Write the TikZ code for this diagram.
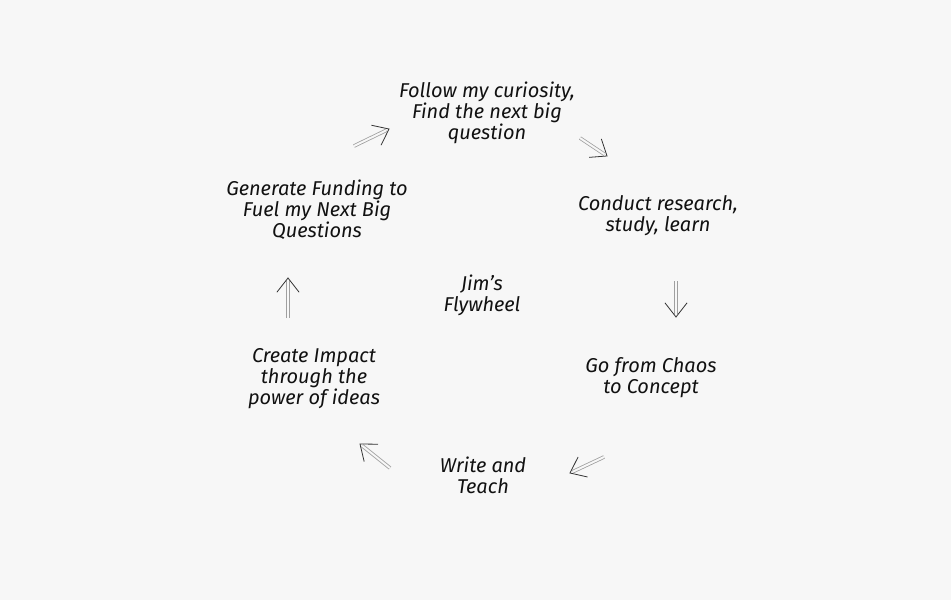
\documentclass[tikz,border=0pt]{standalone}
\usepackage{fontspec}
\setmainfont{Fira Sans}
\usetikzlibrary{calc}
\definecolor{bgcol}{HTML}{F7F7F7}
\definecolor{inkcol}{HTML}{111111}
\begin{document}
\begin{tikzpicture}[x=1pt,y=-1pt,
  label/.style={align=center, text=inkcol, font=\itshape\fontsize{20}{21}\selectfont, inner sep=0pt},
  flow/.style={draw=gray!75, line width=0.8pt, double=bgcol, double distance=2pt,
     shorten >=3pt},
  tip/.style={draw=gray!40!black, line width=0.8pt, line join=miter}
]
\fill[bgcol] (0,0) rectangle (951,600);
\useasboundingbox (0,0) rectangle (951,600);

\node[label] (top) at (487,113) {Follow my curiosity,\\Find the next big\\question};
\node[label] (res) at (658,216) {Conduct research,\\study, learn};
\node[label] (chaos) at (651,378) {Go from Chaos\\to Concept};
\node[label] (write) at (483,475) {Write and\\Teach};
\node[label] (impact) at (314,379) {Create Impact\\through the\\power of ideas};
\node[label] (fund) at (317,210) {Generate Funding to\\Fuel my Next Big\\Questions};
\node[label] (hub) at (482,295) {Jim's\\Flywheel};

\coordinate (a1s) at (354,146); \coordinate (a1e) at (389,129);
\coordinate (a2s) at (580,138); \coordinate (a2e) at (607,156);
\coordinate (a3s) at (676,281); \coordinate (a3e) at (676,317);
\coordinate (a4s) at (604,457); \coordinate (a4e) at (570,473);
\coordinate (a5s) at (390,468); \coordinate (a5e) at (360,444);
\coordinate (a6s) at (288,318); \coordinate (a6e) at (288,278);

\foreach \i in {1,...,6}{
  \draw[flow] (a\i s) -- (a\i e);
  \draw[tip] ($(a\i e)!18pt!38:(a\i s)$) -- (a\i e) -- ($(a\i e)!18pt!-38:(a\i s)$);
}
\end{tikzpicture}
\end{document}
